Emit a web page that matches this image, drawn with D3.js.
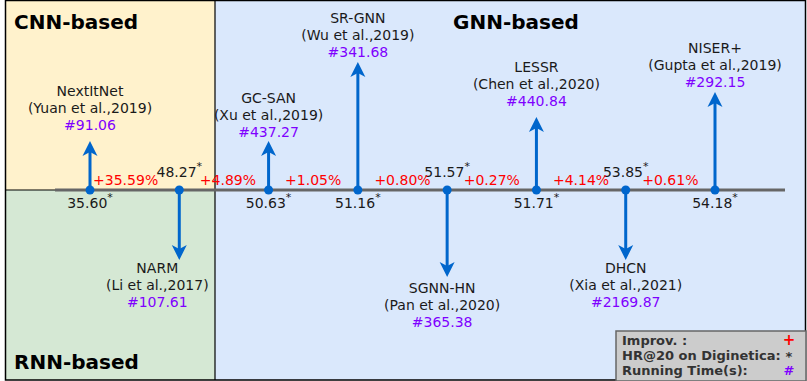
<!DOCTYPE html>
<html><head><meta charset="utf-8">
<script src="https://cdn.jsdelivr.net/npm/d3@7"></script>
<style>html,body{margin:0;padding:0;background:#fff}svg{display:block}text{font-family:"DejaVu Sans",Verdana,sans-serif}</style>
</head><body><div id="chart"></div>
<script>
// ---- data ----
const models = ["NextItNet","NARM","GC-SAN","SR-GNN","SGNN-HN","LESSR","DHCN","NISER+"];
const refs = ["(Yuan et al.,2019)","(Li et al.,2017)","(Xu et al.,2019)","(Wu et al.,2019)","(Pan et al.,2020)","(Chen et al.,2020)","(Xia et al.,2021)","(Gupta et al.,2019)"];
const hr20 = [35.60,48.27,50.63,51.16,51.57,51.71,53.85,54.18];
const runTime = [91.06,107.61,437.27,341.68,365.38,440.84,2169.87,292.15];
const improvements = [35.59,4.89,1.05,0.80,0.27,4.14,0.61];
const direction = ["up","down","up","up","down","up","down","up"];
const families = ["CNN-based","RNN-based","GNN-based"];
const legendItems = ["Improv. :","HR@20 on Diginetica:","Running Time(s):"];
const legendSymbols = ["+","*","#"];

// ---- layout ----
const W = 807, H = 381;
const axisY = 190, divX = 215;
const arrowLen = [49,70,49,128,87,73,70,98];
const labelGap = [16,8,9,10,11,16,8,10];
const labelDx = [0,-22,0,0,-5,0,0,0];
const impDx = [-9,4,0,0,0,0,0];
const blue = "#0066cc", purple = "#7f00ff", red = "#ff0000";

const svg = d3.select("#chart").append("svg").attr("width", W).attr("height", H);

// panels
svg.append("rect").attr("x",5).attr("y",0).attr("width",divX-5).attr("height",axisY).attr("fill","#fff2cc");
svg.append("rect").attr("x",5).attr("y",axisY).attr("width",divX-5).attr("height",380-axisY).attr("fill","#d5e8d4");
svg.append("rect").attr("x",divX).attr("y",0).attr("width",805-divX).attr("height",380).attr("fill","#dae8fc");
svg.append("line").attr("x1",divX).attr("x2",divX).attr("y1",0).attr("y2",380).attr("stroke","#000").attr("stroke-width",1.2);
svg.append("line").attr("x1",5).attr("x2",divX).attr("y1",axisY).attr("y2",axisY).attr("stroke","#000").attr("stroke-width",1.2);
svg.append("rect").attr("x",5.5).attr("y",0.5).attr("width",800).attr("height",379.5).attr("fill","none").attr("stroke","#000").attr("stroke-width",1.5);

// family titles
const titlePos = [[14,29],[14,369],[453,29]];
svg.selectAll("text.fam").data(families).join("text").attr("class","fam")
  .attr("x",(d,i)=>titlePos[i][0]).attr("y",(d,i)=>titlePos[i][1])
  .attr("font-size",20).attr("font-weight","bold").attr("fill","#000").text(d=>d);

const x = d3.scalePoint().domain(models).range([90,715]);

// axis line
svg.append("line").attr("x1",x(models[0])-35).attr("x2",x(models[models.length-1])+70)
  .attr("y1",axisY).attr("y2",axisY).attr("stroke","#666").attr("stroke-width",3);

const items = models.map((m,i)=>({m,i,ref:refs[i],hr:hr20[i],t:runTime[i],dir:direction[i]}));

// arrows
const g = svg.selectAll("g.item").data(items).join("g").attr("class","item")
  .attr("transform",d=>`translate(${x(d.m)},${axisY})`);
g.append("line").attr("x1",0).attr("x2",0).attr("y1",0)
  .attr("y2",d=>(d.dir==="up"?-1:1)*(arrowLen[d.i]-10)).attr("stroke",blue).attr("stroke-width",3);
g.append("path").attr("fill",blue)
  .attr("d",d=>{const s=d.dir==="up"?-1:1, L=arrowLen[d.i];
    return `M0,${s*L} L${-7.5},${s*(L-15)} L0,${s*(L-11)} L7.5,${s*(L-15)} Z`;});
g.append("circle").attr("r",4.5).attr("fill",blue);

// model labels
const lab = g.append("text").attr("text-anchor","middle").attr("font-size",14).attr("fill","#1a1a1a")
  .attr("transform",d=>`translate(${labelDx[d.i]},0)`);
lab.each(function(d){
  const t = d3.select(this);
  const L = arrowLen[d.i], gap = labelGap[d.i];
  let y0 = d.dir==="up" ? -L-gap+5-34 : L+gap+5;
  t.append("tspan").attr("x",0).attr("y",y0).text(d.m);
  t.append("tspan").attr("x",0).attr("y",y0+17).text(d.ref);
  t.append("tspan").attr("x",0).attr("y",y0+34).attr("fill",purple).text("#"+d3.format(".2f")(d.t));
});

// HR values
const hv = g.append("text").attr("text-anchor","middle").attr("font-size",14).attr("fill","#1a1a1a")
  .attr("y",d=>d.dir==="up"?18:-13);
hv.append("tspan").text(d=>d3.format(".2f")(d.hr));
hv.append("tspan").attr("font-size",11).attr("dy",-7).text("*");

// improvements
svg.selectAll("text.imp").data(improvements).join("text").attr("class","imp")
  .attr("x",(d,i)=>(x(models[i])+x(models[i+1]))/2+impDx[i]).attr("y",axisY-5)
  .attr("text-anchor","middle").attr("font-size",14).attr("fill",red)
  .text(d=>"+"+d3.format(".2f")(d)+"%");

// legend
const lg = svg.append("g");
lg.append("rect").attr("x",616).attr("y",331).attr("width",190).attr("height",50)
  .attr("fill","#cccccc").attr("stroke","#666").attr("stroke-width",1.5);
lg.selectAll("text.li").data(legendItems).join("text").attr("class","li")
  .attr("x",622).attr("y",(d,i)=>345+i*15).attr("font-size",13).attr("font-weight","bold").attr("fill","#333").text(d=>d);
const symColors = [red,"#333",purple];
lg.selectAll("text.ls").data(legendSymbols).join("text").attr("class","ls")
  .attr("x",789).attr("y",(d,i)=>[345,361,375][i]).attr("text-anchor","middle")
  .attr("font-size",(d,i)=>i===0?15:13).attr("font-weight","bold").attr("fill",(d,i)=>symColors[i]).text(d=>d);
</script></body></html>
